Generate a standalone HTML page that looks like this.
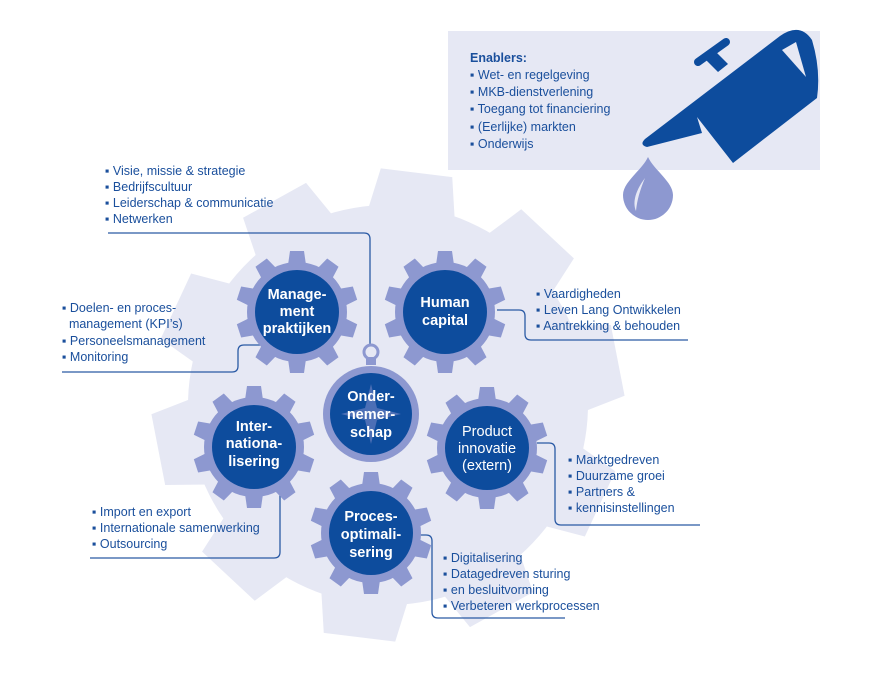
<!DOCTYPE html>
<html><head><meta charset="utf-8"><style>
html,body{margin:0;padding:0;background:#fff;}
body{width:886px;height:678px;position:relative;overflow:hidden;font-family:"Liberation Sans",sans-serif;}
svg{position:absolute;left:0;top:0;}
.t{font-family:"Liberation Sans",sans-serif;font-size:12.5px;fill:#1a4f9c;}
.g{font-family:"Liberation Sans",sans-serif;font-size:14.5px;font-weight:bold;fill:#fff;text-anchor:middle;}
</style></head><body>
<svg width="886" height="678" viewBox="0 0 886 678">
<defs>
<g id="sg">
  <circle r="50" fill="#8d98d0"/>
  <g fill="#8d98d0">
    <polygon id="tt" points="-9,-47 9,-47 7,-61 -7,-61"/>
    <use href="#tt" transform="rotate(36)"/>
    <use href="#tt" transform="rotate(72)"/>
    <use href="#tt" transform="rotate(108)"/>
    <use href="#tt" transform="rotate(144)"/>
    <use href="#tt" transform="rotate(180)"/>
    <use href="#tt" transform="rotate(216)"/>
    <use href="#tt" transform="rotate(252)"/>
    <use href="#tt" transform="rotate(288)"/>
    <use href="#tt" transform="rotate(324)"/>
  </g>
  <circle r="42" fill="#0d4c9d"/>
</g>
<polygon id="bt" points="-44,-190 44,-190 36,-234 -36,-234"/>
</defs>
<!-- big background gear -->
<g transform="translate(388,405) rotate(7)" fill="#e6e8f4">
  <circle r="200"/>
  <use href="#bt"/>
  <use href="#bt" transform="rotate(36)"/>
  <use href="#bt" transform="rotate(72)"/>
  <use href="#bt" transform="rotate(108)"/>
  <use href="#bt" transform="rotate(144)"/>
  <use href="#bt" transform="rotate(180)"/>
  <use href="#bt" transform="rotate(216)"/>
  <use href="#bt" transform="rotate(252)"/>
  <use href="#bt" transform="rotate(288)"/>
  <use href="#bt" transform="rotate(324)"/>
</g>
<!-- enablers box -->
<rect x="448" y="31" width="372" height="139" fill="#e6e8f4"/>
<!-- watering can -->
<path d="M645,139 L780,36 Q800,22 812,40 Q821,70 817,98 L733,163 L697,117 L702,133 L647,147 Q639,145 645,139 Z" fill="#0d4c9d"/>
<path d="M782,50 L796,42 L806,77 Z" fill="#e6e8f4"/>
<line x1="698" y1="62" x2="726" y2="42" stroke="#0d4c9d" stroke-width="8" stroke-linecap="round"/>
<polygon points="706,60 716,52 728,64 718,72" fill="#0d4c9d"/>
<!-- drop -->
<path d="M648,157 C642,170 623,182 623,195 A25,25 0 0 0 673,195 C673,182 654,170 648,157 Z" fill="#8d98d0"/>
<path d="M645,178 C636,190 632,202 636,211 C637,200 640,190 645,178 Z" fill="#e6e8f4"/>
<!-- connector lines -->
<g fill="none" stroke="#2a5aa5" stroke-width="1.3">
  <path d="M108,233 H364 Q370,233 370,239 V345"/>
  <path d="M62,372 H232 Q238,372 238,366 V351 Q238,345 244,345 H262"/>
  <path d="M497,310 H519 Q525,310 525,316 V334 Q525,340 531,340 H688"/>
  <path d="M280,420 V552 Q280,558 274,558 H90"/>
  <path d="M537,443 H549 Q555,443 555,449 V519 Q555,525 561,525 H700"/>
  <path d="M420,535 H426 Q432,535 432,541 V612 Q432,618 438,618 H565"/>
</g>
<!-- small gears -->
<use href="#sg" x="297" y="312"/>
<use href="#sg" x="445" y="312"/>
<use href="#sg" x="254" y="447"/>
<use href="#sg" x="487" y="448"/>
<use href="#sg" x="371" y="533"/>
<!-- compass -->
<circle cx="371" cy="352" r="7" fill="none" stroke="#8d98d0" stroke-width="3"/>
<rect x="366" y="357" width="10" height="8" fill="#8d98d0"/>
<circle cx="371" cy="414" r="48" fill="#8d98d0"/>
<circle cx="371" cy="414" r="41" fill="#0d4c9d"/>
<polygon points="371,384 377,408 401,414 377,420 371,444 365,420 341,414 365,408" fill="#4c6fb6"/>
<g class="g">
<text x="297" y="299">Manage-</text><text x="297" y="316">ment</text><text x="297" y="333">praktijken</text>
<text x="445" y="307">Human</text><text x="445" y="325">capital</text>
<text x="254" y="431">Inter-</text><text x="254" y="448">nationa-</text><text x="254" y="466">lisering</text>
<text x="371" y="401">Onder-</text><text x="371" y="419">nemer-</text><text x="371" y="437">schap</text>
<text x="487" y="436" style="font-weight:normal">Product</text><text x="487" y="453" style="font-weight:normal">innovatie</text><text x="487" y="470" style="font-weight:normal">(extern)</text>
<text x="371" y="521">Proces-</text><text x="371" y="539">optimali-</text><text x="371" y="557">sering</text>
</g>
<!-- text lists -->
<g class="t">
<text x="470" y="62" style="font-weight:bold">Enablers:</text>
<text x="470" y="79">▪ Wet- en regelgeving</text>
<text x="470" y="96">▪ MKB-dienstverlening</text>
<text x="470" y="113">▪ Toegang tot financiering</text>
<text x="470" y="131">▪ (Eerlijke) markten</text>
<text x="470" y="148">▪ Onderwijs</text>

<text x="105" y="175">▪ Visie, missie &amp; strategie</text>
<text x="105" y="191">▪ Bedrijfscultuur</text>
<text x="105" y="207">▪ Leiderschap &amp; communicatie</text>
<text x="105" y="223">▪ Netwerken</text>

<text x="62" y="312">▪ Doelen- en proces-</text>
<text x="62" y="328">&#160;&#160;management (KPI’s)</text>
<text x="62" y="345">▪ Personeelsmanagement</text>
<text x="62" y="361">▪ Monitoring</text>

<text x="536" y="298">▪ Vaardigheden</text>
<text x="536" y="314">▪ Leven Lang Ontwikkelen</text>
<text x="536" y="330">▪ Aantrekking &amp; behouden</text>

<text x="568" y="464">▪ Marktgedreven</text>
<text x="568" y="480">▪ Duurzame groei</text>
<text x="568" y="496">▪ Partners &amp;</text>
<text x="568" y="512">▪ kennisinstellingen</text>

<text x="92" y="516">▪ Import en export</text>
<text x="92" y="532">▪ Internationale samenwerking</text>
<text x="92" y="548">▪ Outsourcing</text>

<text x="443" y="562">▪ Digitalisering</text>
<text x="443" y="578">▪ Datagedreven sturing</text>
<text x="443" y="594">▪ en besluitvorming</text>
<text x="443" y="610">▪ Verbeteren werkprocessen</text>
</g>
</svg>
</body></html>
